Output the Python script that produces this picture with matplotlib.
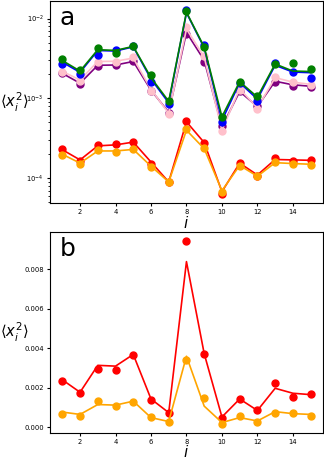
import matplotlib
matplotlib.use("Agg")
import matplotlib.pyplot as plt
import numpy as np

# site index
idx = np.arange(1, 16)

# panel a: measured points (dots) and model curves (lines), log scale
green_pts = [3.15e-3, 2.25e-3, 4.27e-3, 3.74e-3, 4.48e-3, 1.95e-3, 9.4e-4, 1.23e-2,
             4.35e-3, 5.8e-4, 1.62e-3, 1.06e-3, 2.68e-3, 2.76e-3, 2.31e-3]
green_line = [2.98e-3, 2.2e-3, 4.07e-3, 3.99e-3, 4.48e-3, 1.82e-3, 9.2e-4, 1.2e-2,
              4.4e-3, 5.9e-4, 1.62e-3, 1.04e-3, 2.7e-3, 2.2e-3, 2.17e-3]
blue_pts = [2.71e-3, 2.04e-3, 3.53e-3, 4.07e-3, 4.56e-3, 1.62e-3, 8.4e-4, 1.27e-2,
            4.6e-3, 5.06e-4, 1.57e-3, 9.2e-4, 2.76e-3, 2.15e-3, 1.79e-3]
blue_line = [2.84e-3, 2.12e-3, 3.98e-3, 3.92e-3, 4.42e-3, 1.75e-3, 8.8e-4, 1.18e-2,
             4.3e-3, 5.3e-4, 1.57e-3, 9.8e-4, 2.6e-3, 2.14e-3, 2.1e-3]
pink_pts = [2.15e-3, 1.66e-3, 2.84e-3, 2.87e-3, 3.27e-3, 1.24e-3, 6.4e-4, 7.83e-3,
            3.36e-3, 3.92e-4, 1.28e-3, 7.3e-4, 1.84e-3, 1.61e-3, 1.47e-3]
pink_line = [2.18e-3, 1.7e-3, 2.9e-3, 2.92e-3, 3.2e-3, 1.3e-3, 6.5e-4, 7.4e-3,
             3.3e-3, 4.0e-4, 1.32e-3, 7.6e-4, 1.82e-3, 1.6e-3, 1.5e-3]
purple_pts = [2.06e-3, 1.51e-3, 2.58e-3, 2.62e-3, 2.92e-3, 1.25e-3, 6.6e-4, 6.41e-3,
              2.86e-3, 4.5e-4, 1.25e-3, 8.1e-4, 1.62e-3, 1.44e-3, 1.41e-3]
purple_line = [2.06e-3, 1.55e-3, 2.6e-3, 2.62e-3, 2.9e-3, 1.27e-3, 6.7e-4, 6.7e-3,
               3.0e-3, 4.4e-4, 1.22e-3, 7.9e-4, 1.64e-3, 1.48e-3, 1.42e-3]
red_pts_a = [2.31e-4, 1.67e-4, 2.58e-4, 2.66e-4, 2.86e-4, 1.52e-4, 8.9e-5, 5.26e-4,
             2.78e-4, 6.4e-5, 1.55e-4, 1.08e-4, 1.82e-4, 1.67e-4, 1.68e-4]
red_line_a = [2.28e-4, 1.7e-4, 2.55e-4, 2.62e-4, 2.84e-4, 1.6e-4, 9.0e-5, 5.1e-4,
              2.8e-4, 6.8e-5, 1.55e-4, 1.1e-4, 1.72e-4, 1.7e-4, 1.68e-4]
orange_pts_a = [1.96e-4, 1.52e-4, 2.24e-4, 2.14e-4, 2.35e-4, 1.38e-4, 8.9e-5, 4.18e-4,
                2.37e-4, 6.8e-5, 1.43e-4, 1.06e-4, 1.6e-4, 1.49e-4, 1.48e-4]
orange_line_a = [2.0e-4, 1.55e-4, 2.2e-4, 2.2e-4, 2.3e-4, 1.42e-4, 9.0e-5, 4.0e-4,
                 2.35e-4, 7.0e-5, 1.45e-4, 1.06e-4, 1.57e-4, 1.53e-4, 1.5e-4]

# panel b: linear scale
red_pts_b = [0.00236, 0.00173, 0.00294, 0.00292, 0.00364, 0.00139, 0.00071, 0.00941,
             0.00372, 0.00047, 0.00143, 0.00088, 0.00227, 0.00153, 0.00169]
red_line_b = [0.00241, 0.00178, 0.00314, 0.00310, 0.00369, 0.00144, 0.00075, 0.00838,
              0.00373, 0.00053, 0.00144, 0.00086, 0.00198, 0.00173, 0.00166]
orange_pts_b = [0.00070, 0.00058, 0.00136, 0.00108, 0.00128, 0.00053, 0.00028, 0.00342,
                0.00151, 0.00020, 0.00058, 0.00030, 0.00075, 0.00071, 0.00056]
orange_line_b = [0.00078, 0.00066, 0.00116, 0.00113, 0.00133, 0.00050, 0.00030, 0.00360,
                 0.00108, 0.00025, 0.00050, 0.00033, 0.00080, 0.00070, 0.00066]

ms = 5
lw = 1.2

fig = plt.figure(figsize=(3.24, 4.61), dpi=100)
ax_a = fig.add_axes([0.154, 0.5597, 0.843, 0.438])
ax_b = fig.add_axes([0.154, 0.0615, 0.843, 0.435])

# panel a
for pts, line, c in [(red_pts_a, red_line_a, 'red'),
                     (orange_pts_a, orange_line_a, 'orange'),
                     (purple_pts, purple_line, 'purple'),
                     (pink_pts, pink_line, 'pink'),
                     (blue_pts, blue_line, 'blue'),
                     (green_pts, green_line, 'green')]:
    ax_a.plot(idx, line, color=c, lw=lw)
    ax_a.plot(idx, pts, 'o', color=c, ms=ms)
ax_a.set_yscale('log')

# panel b
for pts, line, c in [(red_pts_b, red_line_b, 'red'),
                     (orange_pts_b, orange_line_b, 'orange')]:
    ax_b.plot(idx, line, color=c, lw=lw)
    ax_b.plot(idx, pts, 'o', color=c, ms=ms)

for ax, letter in [(ax_a, 'a'), (ax_b, 'b')]:
    ax.set_xticks([2, 4, 6, 8, 10, 12, 14])
    ax.tick_params(labelsize=4.9, length=2.5, pad=2)
    ax.tick_params(which='minor', length=1.5)
    ax.set_xlabel('$i$', fontsize=11, labelpad=-0.5)
    ax.set_ylabel(r'$\langle x_i^2\rangle$', fontsize=10.5, rotation=0,
                  ha='right', va='center')
    ax.yaxis.set_label_coords(-0.08, 0.5)
    ax.text(0.035, 0.975, letter, transform=ax.transAxes, fontsize=18,
            va='top', ha='left')

fig.savefig('out.png', dpi=100)
